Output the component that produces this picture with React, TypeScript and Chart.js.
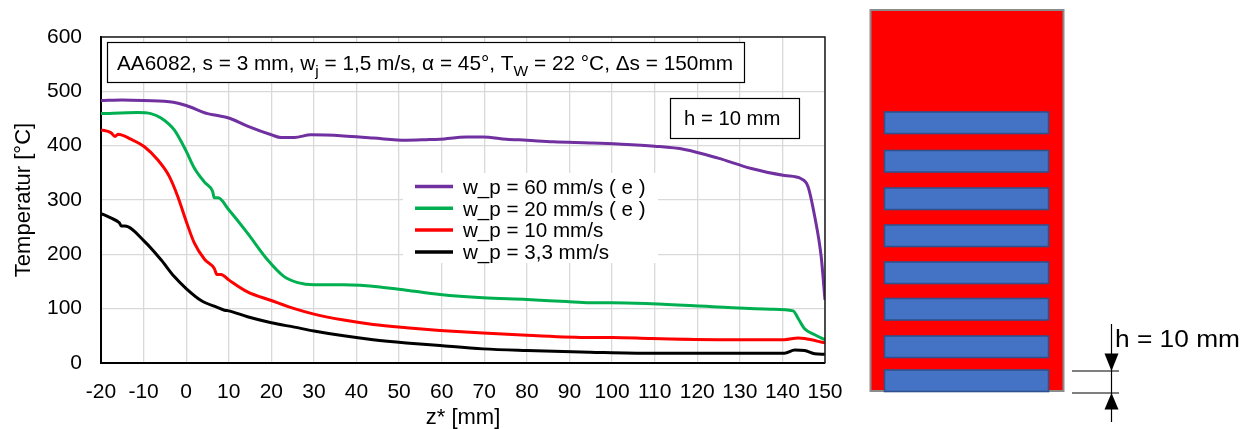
import React, { useEffect, useRef } from "react";
import { Chart, registerables } from "chart.js";

Chart.register(...registerables);

// Axis ranges and tick spacing
const X_MIN = -20;
const X_MAX = 150;
const X_STEP = 10;
const Y_MIN = 0;
const Y_MAX = 600;
const Y_STEP = 100;

// w_p = 60 mm/s ( e )
const z60 = [-20, -15, -10, -3, 0, 5, 7, 10, 14.4, 20, 22.3, 25.4, 29.3, 37, 44, 51.7, 56.4, 59.6, 65.8, 69.7, 75.2, 80, 86.2, 94.8, 101.4, 110, 117, 124.9, 132.7, 140.5, 144.4, 146, 147.6, 149.1, 150];
const t60 = [483, 484, 483, 480, 474, 459, 456, 451, 436, 420, 415, 415, 420, 418, 414, 410, 411, 412, 416, 416, 412, 410, 407, 405, 403, 399, 393, 377, 358, 345, 339, 325, 269, 196, 116];

// w_p = 20 mm/s ( e )
const z20 = [-20, -11.4, -8.3, -5.9, -2.8, 0, 1.9, 4.3, 6.2, 6.6, 7.5, 10, 14.4, 19.1, 23, 26.2, 30, 37, 40.8, 45.5, 51.7, 59.6, 69.7, 80, 89.3, 94.8, 100, 109.2, 124.9, 137.4, 142.5, 143.7, 145.2, 147.6, 150];
const t20 = [459, 461, 459, 451, 429, 390, 359, 333, 316, 304, 304, 282, 239, 190, 159, 148, 144, 144, 143, 140, 134, 126, 120, 117, 113, 111, 111, 109, 103, 99, 96, 82, 63, 52, 43];

// w_p = 10 mm/s
const z10 = [-20, -17.7, -16.7, -16, -13, -9.8, -6.7, -4, -2, 0, 1.9, 4.3, 6.6, 7.2, 8.2, 10, 14.4, 20, 25.4, 30, 37, 43.9, 51.7, 59.6, 69.7, 80, 94.8, 100, 109.2, 124.9, 140.5, 143.7, 145.2, 150];
const t10 = [429, 424, 417, 421, 412, 398, 374, 344, 307, 261, 221, 191, 174, 163, 163, 153, 131, 115, 100, 90, 79, 71, 65, 60, 55, 51, 47, 47, 45, 43, 43, 46, 45, 37];

// w_p = 3,3 mm/s
const z3 = [-20, -17.7, -15.7, -15.2, -14.4, -9.8, -5.9, -2.8, 0, 3.5, 7.4, 9, 10, 14.4, 20, 25.4, 30, 37, 43.9, 51.7, 59.6, 69.7, 80, 94.8, 109.2, 140.5, 142.9, 145.2, 147.6, 150];
const t3 = [275, 267, 258, 252, 252, 224, 190, 159, 137, 115, 102, 97, 96, 85, 74, 66, 59, 50, 43, 37, 32, 26, 23, 20, 18, 18, 24, 23, 17, 16];

const seriesLabels = [
  "w_p = 60 mm/s ( e )",
  "w_p = 20 mm/s ( e )",
  "w_p = 10 mm/s",
  "w_p = 3,3 mm/s",
];
const seriesColors = ["#7030A0", "#00B050", "#FF0000", "#000000"];
const seriesZ = [z60, z20, z10, z3];
const seriesT = [t60, t20, t10, t3];

const FONT = "Arial, 'Liberation Sans', sans-serif";
const W = 1243;
const H = 429;

// Plot frame, parameter boxes and the legend drawn on top of the plot area
const overlayPlugin = {
  id: "overlay",
  afterDatasetsDraw(chart: any) {
    const { ctx, chartArea: ca } = chart;
    ctx.save();

    // top and right frame lines
    ctx.strokeStyle = "#1a1a1a";
    ctx.lineWidth = 1.5;
    ctx.beginPath();
    ctx.moveTo(ca.left, ca.top);
    ctx.lineTo(ca.right, ca.top);
    ctx.lineTo(ca.right, ca.bottom);
    ctx.stroke();

    // parameter box
    const b1x = ca.left + 6;
    const b1y = ca.top + 5;
    ctx.fillStyle = "#fff";
    ctx.fillRect(b1x, b1y, 637, 40);
    ctx.strokeStyle = "#000";
    ctx.lineWidth = 1.2;
    ctx.strokeRect(b1x + 0.5, b1y + 0.5, 637, 40);
    ctx.fillStyle = "#000";
    ctx.textBaseline = "alphabetic";
    ctx.textAlign = "left";
    const base = b1y + 27.5;
    let x = b1x + 10;
    const parts: [string, boolean][] = [
      ["AA6082, s = 3 mm, w", false],
      ["j", true],
      [" = 1,5 m/s, α = 45°, T", false],
      ["W", true],
      [" = 22 °C, Δs = 150mm", false],
    ];
    for (const [txt, sub] of parts) {
      ctx.font = sub ? `15.5px ${FONT}` : `20.8px ${FONT}`;
      ctx.fillText(txt, x, sub ? base + 6 : base);
      x += ctx.measureText(txt).width;
    }

    // height box
    const b2x = ca.right - 155;
    const b2y = ca.top + 61;
    ctx.fillStyle = "#fff";
    ctx.fillRect(b2x, b2y, 129, 40);
    ctx.strokeRect(b2x + 0.5, b2y + 0.5, 129, 40);
    ctx.fillStyle = "#000";
    ctx.font = `20.3px ${FONT}`;
    ctx.fillText("h = 10 mm", b2x + 14, b2y + 26.5);

    // legend
    const lx = ca.left + 302;
    const ly = ca.top + 136;
    ctx.fillStyle = "#fff";
    ctx.fillRect(lx, ly, 255, 90);
    chart.data.datasets.forEach((ds: any, i: number) => {
      const y = ly + 13.5 + i * 21.8;
      ctx.strokeStyle = ds.borderColor;
      ctx.lineWidth = 3.5;
      ctx.beginPath();
      ctx.moveTo(lx + 12, y);
      ctx.lineTo(lx + 50, y);
      ctx.stroke();
      ctx.fillStyle = "#000";
      ctx.font = `20.6px ${FONT}`;
      ctx.fillText(ds.label, lx + 60, y + 7.3);
    });

    ctx.restore();
  },
};

function TemperatureChart() {
  const ref = useRef<HTMLCanvasElement>(null);

  useEffect(() => {
    if (!ref.current) return;
    const datasets = seriesLabels.map((label, i) => ({
      label,
      data: seriesZ[i].map((z, k) => ({ x: z, y: seriesT[i][k] })),
      borderColor: seriesColors[i],
      backgroundColor: seriesColors[i],
      borderWidth: 3,
      pointRadius: 0,
      cubicInterpolationMode: "monotone" as const,
      fill: false,
    }));

    const chart = new Chart(ref.current, {
      type: "line",
      data: { datasets },
      plugins: [overlayPlugin],
      options: {
        animation: false,
        responsive: false,
        devicePixelRatio: 1,
        layout: { padding: { left: 0, right: W - 825, top: 37, bottom: 0 } },
        plugins: {
          legend: { display: false },
          tooltip: { enabled: false },
        },
        scales: {
          x: {
            type: "linear",
            min: X_MIN,
            max: X_MAX,
            afterFit: (s: any) => {
              s.height = H - 363;
            },
            ticks: {
              stepSize: X_STEP,
              autoSkip: false,
              maxRotation: 0,
              color: "#000",
              padding: 17,
              font: { family: FONT, size: 21 },
            },
            grid: { color: "#d9d9d9", lineWidth: 1.3, drawTicks: false },
            border: { color: "#000", width: 2 },
            title: {
              display: true,
              text: "z* [mm]",
              color: "#000",
              font: { family: FONT, size: 22, lineHeight: 1 },
              padding: { top: 0, bottom: 0 },
            },
          },
          y: {
            min: Y_MIN,
            max: Y_MAX,
            afterFit: (s: any) => {
              s.width = 101;
            },
            ticks: {
              stepSize: Y_STEP,
              color: "#000",
              padding: 19,
              font: { family: FONT, size: 21 },
            },
            grid: { color: "#d9d9d9", lineWidth: 1.3, drawTicks: false },
            border: { color: "#000", width: 2 },
            title: {
              display: true,
              text: "Temperatur [°C]",
              color: "#000",
              font: { family: FONT, size: 22 },
              padding: { top: 11, bottom: 0 },
            },
          },
        },
      },
    });
    return () => chart.destroy();
  }, []);

  return <canvas ref={ref} width={W} height={H} style={{ width: W, height: H, display: "block" }} />;
}

// Cross-section sketch of the specimen with nozzle rows and the spacing h
function NozzleSketch() {
  const rows = [112, 150.5, 188, 225, 262, 298.5, 336, 370];
  return (
    <svg width={W} height={H} style={{ position: "absolute", left: 0, top: 0, pointerEvents: "none" }}>
      <rect x={870.5} y={10} width={193} height={381} fill="#FF0000" stroke="#8c8c8c" strokeWidth={2} />
      {rows.map((y) => (
        <rect key={y} x={884.5} y={y} width={164} height={21.5} fill="#4472C4" stroke="#2F528F" strokeWidth={1.6} />
      ))}
      <line x1={1072} y1={371} x2={1119} y2={371} stroke="#000" strokeWidth={1.2} />
      <line x1={1072} y1={393} x2={1119} y2={393} stroke="#000" strokeWidth={1.2} />
      <line x1={1111.5} y1={324} x2={1111.5} y2={422} stroke="#000" strokeWidth={1.2} />
      <polygon points="1104.5,353.5 1118.5,353.5 1111.5,371" fill="#000" />
      <polygon points="1104.5,409.5 1118.5,409.5 1111.5,393" fill="#000" />
      <text x={1115} y={347} fontFamily={FONT} fontSize={23} fill="#000" textLength={125} lengthAdjust="spacingAndGlyphs">
        h = 10 mm
      </text>
    </svg>
  );
}

export default function App() {
  return (
    <div style={{ position: "fixed", left: 0, top: 0, width: W, height: H, background: "#fff" }}>
      <TemperatureChart />
      <NozzleSketch />
    </div>
  );
}
